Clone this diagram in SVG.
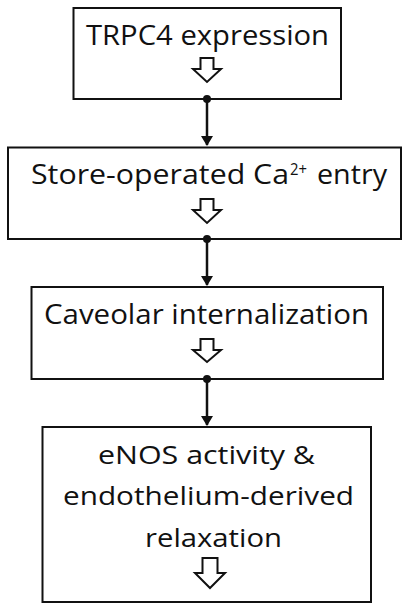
<svg xmlns="http://www.w3.org/2000/svg" width="402" height="603" viewBox="0 0 402 603">
<defs>
<style>
.box{fill:#fff;stroke:#111;stroke-width:2}
.t{font-family:"Open Sans","Noto Sans","Liberation Sans",sans-serif;fill:#111}
.ha{fill:#fff;stroke:#111;stroke-width:2;stroke-linejoin:miter}
.conn{stroke:#111;stroke-width:2.5;fill:none}
.dot{fill:#111}
</style>
<marker id="ah" markerWidth="10" markerHeight="12" refX="9" refY="6" orient="auto" markerUnits="userSpaceOnUse" viewBox="0 0 10 12">
<path d="M0,0 L10,6 L0,12 Z" fill="#111"/>
</marker>
</defs>
<rect width="402" height="603" fill="#fff"/>
<g id="node1">
<rect class="box" x="73.5" y="8" width="267.5" height="91"/>
<text class="t" x="86" y="44.5" font-size="28" textLength="243" lengthAdjust="spacingAndGlyphs">TRPC4 expression</text>
<polygon class="ha" points="200.5,58 213.5,58 213.5,69 221,69 207,82 193,69 200.5,69"/>
</g>
<g id="node2">
<rect class="box" x="8" y="147.5" width="393" height="91.5"/>
<text class="t" x="31" y="183.5" font-size="26.5" textLength="258" lengthAdjust="spacingAndGlyphs">Store-operated Ca</text>
<text class="t" x="290" y="175" font-size="16" textLength="17" lengthAdjust="spacingAndGlyphs">2+</text>
<text class="t" x="317" y="183.5" font-size="26.5" textLength="70" lengthAdjust="spacingAndGlyphs">entry</text>
<polygon class="ha" points="200.5,199 213.5,199 213.5,210 221,210 207,223 193,210 200.5,210"/>
</g>
<g id="node3">
<rect class="box" x="31.5" y="287" width="351.5" height="92"/>
<text class="t" x="44" y="324" font-size="26.5" textLength="325" lengthAdjust="spacingAndGlyphs">Caveolar internalization</text>
<polygon class="ha" points="200.5,339 213.5,339 213.5,350 221,350 207,362 193,350 200.5,350"/>
</g>
<g id="node4">
<rect class="box" x="42.5" y="427" width="328.5" height="175"/>
<text class="t" x="98" y="464" font-size="25" textLength="217" lengthAdjust="spacingAndGlyphs">eNOS activity &amp;</text>
<text class="t" x="63" y="505" font-size="25" textLength="291" lengthAdjust="spacingAndGlyphs">endothelium-derived</text>
<text class="t" x="145" y="546.5" font-size="25" textLength="137" lengthAdjust="spacingAndGlyphs">relaxation</text>
<polygon class="ha" points="202.5,558 217.5,558 217.5,573 225,573 210,588 195,573 202.5,573"/>
</g>
<g id="connectors">
<line class="conn" x1="207" y1="99" x2="207" y2="145" marker-end="url(#ah)"/>
<circle class="dot" cx="207" cy="99" r="4"/>
<line class="conn" x1="207" y1="239" x2="207" y2="285" marker-end="url(#ah)"/>
<circle class="dot" cx="207" cy="239" r="4"/>
<line class="conn" x1="207" y1="379" x2="207" y2="425" marker-end="url(#ah)"/>
<circle class="dot" cx="207" cy="379" r="4"/>
</g>
</svg>
